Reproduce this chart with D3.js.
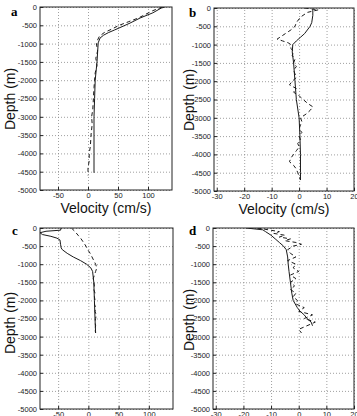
<!DOCTYPE html>
<html>
<head>
<meta charset="utf-8">
<script src="https://cdn.jsdelivr.net/npm/d3@7"></script>
<style>
body { margin: 0; background: #fff; }
svg { display: block; }
.tick text { font-family: "Liberation Sans", Arial, sans-serif; font-size: 7.5px; fill: #222; }
.grid line { stroke: #888; stroke-dasharray: 1,2; stroke-width: 0.8; }
.grid path { display: none; }
</style>
</head>
<body>
<script>
// depth (m), velocity (cm/s) pairs
let depthTicks = [0, -500, -1000, -1500, -2000, -2500, -3000, -3500, -4000, -4500, -5000];
let velTicksWide = [-50, 0, 50, 100];
let velTicksNarrow = [-30, -20, -10, 0, 10, 20];

let aSolid = [[0,128],[-30,122],[-160,108],[-300,87],[-440,70],[-550,55],[-630,44],[-700,34],[-770,26],[-850,20],
  [-980,17],[-1500,15],[-2000,12],[-2500,11],[-3000,10],[-3500,10],[-4000,10],[-4530,10]];
let aDashed = [[0,124],[-100,108],[-200,96],[-300,84],[-400,68],[-500,52],[-600,40],[-700,27],[-800,19],[-900,16],
  [-1000,14],[-1200,16],[-1400,13],[-1600,15],[-1800,12],[-2000,11],[-2200,10],[-2500,9],[-2800,8],[-3000,6],
  [-3200,7],[-3500,5],[-3800,4],[-4000,2],[-4200,2],[-4400,0],[-4600,0]];

let bSolid = [[-30,5],[-200,5],[-400,4.6],[-500,4],[-600,3],[-700,2],[-800,0.5],[-900,-1],[-1000,-2.3],[-1200,-2.5],
  [-1500,-2],[-2000,-1.5],[-2500,-1],[-3000,0],[-3500,0.3],[-4000,0.5],[-4500,0.5],[-4700,0.5]];
let bDashed = [[0,2],[-50,7],[-120,3],[-250,0.5],[-400,-1],[-500,-1.5],[-600,-3],[-700,-5],[-800,-7],[-850,-8],
  [-900,-6],[-950,-4],[-1000,-3],[-1100,-3],[-1200,-2],[-1300,-2.5],[-1400,-1.5],[-1500,-2],[-1600,-1],[-1700,-2],
  [-1800,-1.5],[-1900,-1],[-2000,-2.5],[-2100,-3.5],[-2200,-1],[-2300,-2],[-2400,0],[-2500,1.5],[-2600,3],[-2700,5],
  [-2800,4],[-2900,2.5],[-3000,0.5],[-3100,1],[-3200,0.5],[-3300,0],[-3400,1],[-3500,0],[-3600,0.5],[-3700,-0.5],
  [-3800,0],[-3900,-1],[-4000,-2],[-4100,-3],[-4200,-3.5],[-4300,-2],[-4400,-1],[-4500,-0.5],[-4600,0],[-4700,0.5]];

let cSolid = [[0,-45],[-60,-46],[-90,-70],[-130,-80],[-180,-76],[-230,-62],[-280,-52],[-330,-47],[-450,-46],[-550,-45],
  [-600,-43],[-700,-35],[-800,-25],[-900,-13],[-1000,-3],[-1100,4],[-1200,7],[-1500,9],[-2000,10],[-2500,11],[-2900,12]];
let cDashed = [[0,-28],[-100,-22],[-200,-17],[-300,-12],[-400,-8],[-500,-4],[-600,-1],[-700,3],[-800,6],[-900,9],
  [-1000,12],[-1100,14],[-1200,12],[-1300,10],[-1400,8],[-1500,9],[-1600,10],[-1700,9],[-1800,11],[-1900,10],
  [-2000,11],[-2100,10],[-2200,12],[-2300,11],[-2400,13],[-2500,12],[-2600,11],[-2700,12],[-2800,11],[-2900,12]];

let dSolid = [[0,-19],[-50,-13],[-100,-12],[-200,-10],[-300,-8.5],[-400,-7],[-500,-5.5],[-600,-4.5],[-800,-4],
  [-1000,-3.8],[-1200,-3.5],[-1500,-3],[-1800,-2.5],[-2000,-2],[-2200,-0.5],[-2300,0.5],[-2400,2],[-2500,3],
  [-2600,4.5],[-2700,5]];
let dDashed = [[0,-15],[-50,-11],[-100,-7],[-150,-9],[-200,-5],[-250,-7],[-300,-3],[-350,-5],[-400,-1],[-450,1],
  [-500,-2],[-600,-4],[-700,-3],[-800,-1],[-900,-4],[-1000,-1],[-1100,-2],[-1200,0],[-1300,-3],[-1400,-1],
  [-1500,-3],[-1600,-1.5],[-1700,-3],[-1800,-1],[-1900,-2],[-2000,-0.5],[-2100,-1],[-2200,2],[-2300,0],[-2400,5],
  [-2500,2],[-2600,6],[-2700,3],[-2800,0],[-2900,1]];

let w = 357, h = 416;

// bottom row x labels fall below the page, so only the top row gets one
let panels = [
  {id: "a", l: 40,  r: 172, t: 7,   b: 190, dom: [-80, 140], ticks: velTicksWide,   solid: aSolid, dashed: aDashed, lx: 11,  ly: 16,  yl: 10,  ylc: 99,  xlab: true},
  {id: "b", l: 214, r: 354, t: 8,   b: 191, dom: [-31, 20],  ticks: velTicksNarrow, solid: bSolid, dashed: bDashed, lx: 189, ly: 17,  yl: 189, ylc: 100, xlab: true},
  {id: "c", l: 40,  r: 173, t: 228, b: 409, dom: [-80, 140], ticks: velTicksWide,   solid: cSolid, dashed: cDashed, lx: 12,  ly: 235, yl: 10,  ylc: 323, xlab: false},
  {id: "d", l: 213, r: 354, t: 228, b: 409, dom: [-31, 20],  ticks: velTicksNarrow, solid: dSolid, dashed: dDashed, lx: 189, ly: 235, yl: 189, ylc: 320, xlab: false}
];

let svg = d3.select("body").append("svg")
  .attr("width", w)
  .attr("height", h);

panels.forEach((p) => {
  let x = d3.scaleLinear().domain(p.dom).range([p.l, p.r]);
  let y = d3.scaleLinear().domain([-5000, 0]).range([p.b, p.t]);

  let g = svg.append("g");

  // dotted grid
  g.append("g").attr("class", "grid")
    .attr("transform", "translate(0," + p.b + ")")
    .call(d3.axisBottom(x).tickValues(p.ticks).tickSize(-(p.b - p.t)).tickFormat(""));
  g.append("g").attr("class", "grid")
    .attr("transform", "translate(" + p.l + ",0)")
    .call(d3.axisLeft(y).tickValues(depthTicks).tickSize(-(p.r - p.l)).tickFormat(""));

  // labelled axes, ticks point inward like matlab
  g.append("g")
    .attr("transform", "translate(0," + p.b + ")")
    .call(d3.axisBottom(x).tickValues(p.ticks).tickSizeInner(-3).tickSizeOuter(0).tickPadding(3)
      .tickFormat((d) => String(d)))
    .call((s) => s.select(".domain").remove());
  g.append("g")
    .attr("transform", "translate(" + p.l + ",0)")
    .call(d3.axisLeft(y).tickValues(depthTicks).tickSizeInner(-3).tickSizeOuter(0).tickPadding(3)
      .tickFormat((d) => String(d)))
    .call((s) => s.select(".domain").remove());
  g.selectAll(".tick line").attr("stroke", "#222");

  // frame
  g.append("rect")
    .attr("x", p.l).attr("y", p.t)
    .attr("width", p.r - p.l).attr("height", p.b - p.t)
    .attr("fill", "none").attr("stroke", "#222").attr("stroke-width", 1);

  let clip = "clip-" + p.id;
  svg.append("clipPath").attr("id", clip)
    .append("rect").attr("x", p.l).attr("y", p.t).attr("width", p.r - p.l).attr("height", p.b - p.t);

  let line = d3.line().x((d) => x(d[1])).y((d) => y(d[0]));

  g.append("path").datum(p.solid)
    .attr("clip-path", "url(#" + clip + ")")
    .attr("d", line).attr("fill", "none")
    .attr("stroke", "#1a1a1a").attr("stroke-width", 1);
  g.append("path").datum(p.dashed)
    .attr("clip-path", "url(#" + clip + ")")
    .attr("d", line).attr("fill", "none")
    .attr("stroke", "#1a1a1a").attr("stroke-width", 1)
    .attr("stroke-dasharray", "4,3");

  // panel letter
  g.append("text")
    .attr("x", p.lx).attr("y", p.ly)
    .attr("font-family", "Liberation Serif, Times New Roman, serif")
    .attr("font-weight", "bold").attr("font-size", 13)
    .text(p.id);

  // depth label
  g.append("text")
    .attr("transform", "translate(" + (p.yl + 5) + "," + p.ylc + ") rotate(-90)")
    .attr("text-anchor", "middle")
    .attr("font-family", "Liberation Sans, Arial, sans-serif")
    .attr("font-size", 14).attr("fill", "#111")
    .text("Depth (m)");

  if (p.xlab) {
    g.append("text")
      .attr("x", (p.l + p.r) / 2).attr("y", p.b + 23)
      .attr("text-anchor", "middle")
      .attr("font-family", "Liberation Sans, Arial, sans-serif")
      .attr("font-size", 14).attr("fill", "#111")
      .text("Velocity (cm/s)");
  }
});
</script>
</body>
</html>
